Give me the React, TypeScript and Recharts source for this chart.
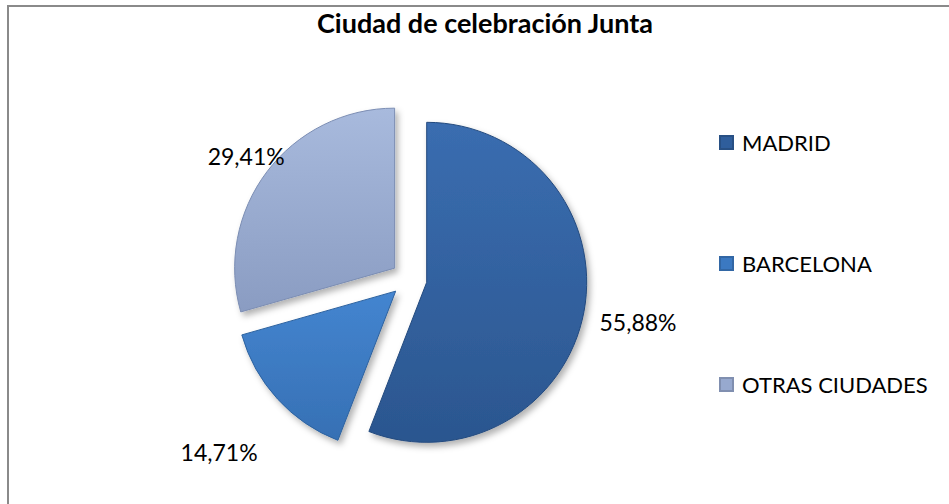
import { Cell, Pie, PieChart } from 'recharts';

// datos de la gráfica
const CITIES = ['MADRID', 'BARCELONA', 'OTRAS CIUDADES'];
const MEETINGS = [19, 5, 10];

const TITLE = 'Ciudad de celebración Junta';

// colores (arriba / abajo del degradado)
const TOP_COLORS = ['#3a6db0', '#4485d0', '#a8badd'];
const BOTTOM_COLORS = ['#2b568f', '#3670b4', '#8a9cc2'];
const EDGE_COLORS = ['#244a7e', '#2d629f', '#7b8db3'];
const LEGEND_COLORS = ['#2f5e9c', '#3b79c2', '#97a9cf'];

// distancia extra de cada etiqueta respecto al borde del sector
const LABEL_GAPS = [55, 79, 26];

const FONT = 'Lato, "Open Sans", sans-serif';

const WIDTH = 949;
const HEIGHT = 504;
const CENTER_X = 409;
const CENTER_Y = 279;
const RADIUS = 160;
const EXPLODE = 18;
const RADIAN = Math.PI / 180;

const data = CITIES.map((name, i) => ({ name, value: MEETINGS[i] }));
const total = MEETINGS.reduce((a, b) => a + b, 0);

// ángulo medio de cada sector (sentido horario desde las 12)
const midAngles = MEETINGS.map((v, i) => {
  const before = MEETINGS.slice(0, i).reduce((a, b) => a + b, 0);
  return ((before + v / 2) / total) * 360;
});

const formatPct = (p: number) => `${(p * 100).toFixed(2).replace('.', ',')}%`;

function makeLabel(visible: number) {
  return (props: any) => {
    const { cx, cy, midAngle, outerRadius, percent, index } = props;
    if (index !== visible) return null;
    const r = outerRadius + LABEL_GAPS[index];
    const x = cx + r * Math.cos(-midAngle * RADIAN);
    const y = cy + r * Math.sin(-midAngle * RADIAN);
    return (
      <text
        x={x}
        y={y}
        textAnchor="middle"
        dominantBaseline="central"
        fill="#000"
        style={{ fontFamily: FONT, fontSize: 23 }}
      >
        {formatPct(percent)}
      </text>
    );
  };
}

export default function App() {
  return (
    <div
      style={{
        position: 'absolute',
        left: 0,
        top: 0,
        width: WIDTH,
        height: HEIGHT,
        overflow: 'hidden',
        background: '#fff',
        fontFamily: FONT,
      }}
    >
      {/* borde del área del gráfico */}
      <div
        style={{
          position: 'absolute',
          left: 7,
          top: 5,
          width: WIDTH + 20,
          height: HEIGHT + 20,
          border: '2px solid #8a8a8a',
          boxSizing: 'border-box',
        }}
      />
      <div
        style={{
          position: 'absolute',
          left: 0,
          width: 970,
          top: 6,
          textAlign: 'center',
          fontWeight: 700,
          fontSize: 27,
          color: '#000',
        }}
      >
        {TITLE}
      </div>
      <div style={{ position: 'absolute', left: 0, top: 0 }}>
        <PieChart width={WIDTH} height={HEIGHT} margin={{ top: 0, right: 0, bottom: 0, left: 0 }}>
          <defs>
            {CITIES.map((c, i) => (
              <linearGradient key={c} id={`grad-${i}`} x1="0" y1="0" x2="0" y2="1">
                <stop offset="0%" stopColor={TOP_COLORS[i]} />
                <stop offset="100%" stopColor={BOTTOM_COLORS[i]} />
              </linearGradient>
            ))}
            <filter id="shadow" x="-20%" y="-20%" width="140%" height="140%">
              <feDropShadow dx="3" dy="4" stdDeviation="3" floodColor="#000" floodOpacity="0.3" />
            </filter>
          </defs>
          {CITIES.map((c, k) => (
            <Pie
              key={c}
              data={data}
              dataKey="value"
              nameKey="name"
              cx={CENTER_X + EXPLODE * Math.sin(midAngles[k] * RADIAN)}
              cy={CENTER_Y - EXPLODE * Math.cos(midAngles[k] * RADIAN)}
              outerRadius={RADIUS}
              startAngle={90}
              endAngle={-270}
              labelLine={false}
              label={makeLabel(k)}
              legendType="none"
              isAnimationActive={false}
            >
              {data.map((entry, i) => (
                <Cell
                  key={`cell-${entry.name}`}
                  fill={i === k ? `url(#grad-${i})` : 'transparent'}
                  stroke={i === k ? EDGE_COLORS[i] : 'none'}
                  strokeWidth={1}
                  filter={i === k ? 'url(#shadow)' : undefined}
                />
              ))}
            </Pie>
          ))}
        </PieChart>
      </div>
      {/* leyenda */}
      <div style={{ position: 'absolute', left: 719, top: 127 }}>
        {CITIES.map((c, i) => (
          <div
            key={c}
            style={{
              position: 'absolute',
              top: i * 121,
              display: 'flex',
              alignItems: 'center',
              whiteSpace: 'nowrap',
              fontSize: 22,
              height: 30,
            }}
          >
            <span
              style={{
                display: 'inline-block',
                width: 15,
                height: 15,
                marginRight: 8,
                background: LEGEND_COLORS[i],
                boxShadow: 'inset 0 0 0 2px rgba(0,0,0,0.15)',
              }}
            />
            {c}
          </div>
        ))}
      </div>
    </div>
  );
}
